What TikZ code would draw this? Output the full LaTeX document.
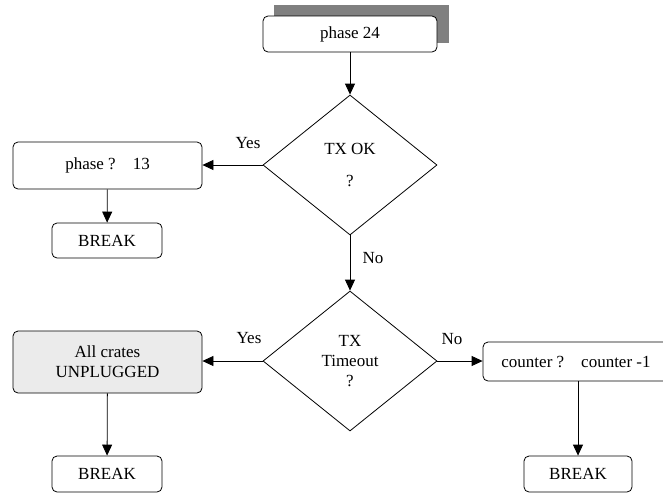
\documentclass[tikz,border=0pt]{standalone}
\usepackage{fontspec}
\setmainfont{Liberation Serif}
\usetikzlibrary{arrows.meta, positioning, shapes.geometric}

\begin{document}
\begin{tikzpicture}[x=1pt, y=-1pt, line width=0.8pt,
		every node/.style={font=\fontsize{17}{20}\selectfont},
		box/.style={draw, rectangle, rounded corners=5pt, inner sep=0pt, align=center},
		test/.style={draw, diamond, inner sep=0pt, minimum width=174pt, minimum height=140pt, align=center},
		flow/.style={-{Triangle[length=11pt, width=10pt]}}]
	\useasboundingbox (0,0) rectangle (663,493);

	% Shade behind the first step
	\fill[black!50] (274,5) rectangle (449,43);

	% Start
	\node[box, fill=white, minimum width=174pt, minimum height=36pt] (phasestart) at (350,34) {phase 24};

	% First test
	\node[test] (txok) at (350,165) {TX OK\\[12pt]?};
	\draw[flow] (phasestart) -- (txok);

	% Yes branch
	\node[box, minimum width=189pt, minimum height=47pt] (phaseset) at (107.5,165.5) {phase ?\quad 13};
	\node[box, minimum width=110pt, minimum height=35pt] (breakok) at (107,240.5) {BREAK};
	\draw[flow] (txok.west) -- (phaseset.east |- txok.west);
	\node (yesok) at (248,143) {Yes};
	\draw[flow] (phaseset) -- (breakok);

	% Second test
	\node[test] (txtime) at (350,361) {TX\\Timeout\\?};
	\draw[flow] (txok.south) -- (txtime.north);
	\node (nook) at (373,258) {No};

	% Timeout
	\node[box, fill=black!8, minimum width=189pt, minimum height=62pt] (unplug) at (107.5,362) {All crates\\UNPLUGGED};
	\node[box, minimum width=110pt, minimum height=36pt] (breakout) at (107,474) {BREAK};
	\draw[flow] (txtime.west) -- (unplug.east |- txtime.west);
	\node (yestime) at (249,338) {Yes};
	\draw[flow] (unplug) -- (breakout);

	% Retry
	\node[box, minimum width=186pt, minimum height=39pt] (countdown) at (576,361.5) {counter ?\quad counter -1};
	\node[box, minimum width=108pt, minimum height=36pt] (breakretry) at (578,474) {BREAK};
	\draw[flow] (txtime.east) -- (countdown.west |- txtime.east);
	\node (notime) at (452,339) {No};
	\draw[flow] (countdown.south -| breakretry) -- (breakretry);
\end{tikzpicture}
\end{document}
